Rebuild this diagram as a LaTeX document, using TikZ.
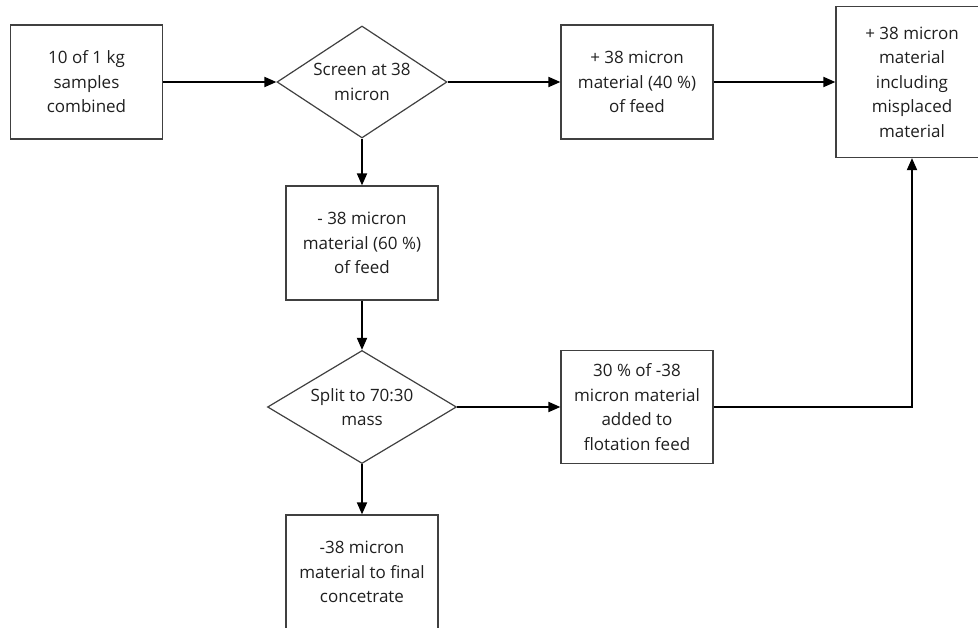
\documentclass[tikz,border=0pt]{standalone}
\usepackage{fontspec}
\setmainfont{Open Sans}
\usetikzlibrary{shapes.geometric,arrows.meta}
\begin{document}
\begin{tikzpicture}[x=1pt,y=-1pt,
  every node/.style={font=\fontsize{17}{24.5}\selectfont, text=black!88, align=center},
  boxnode/.style={draw=black!75, line width=1.2pt, rectangle, minimum width=152pt, minimum height=114pt, inner sep=0pt},
  decision/.style={draw=black!75, line width=1.2pt, diamond, inner sep=0pt, shape aspect=1.5},
  flow/.style={line width=1.8pt, -{Triangle[length=12pt,width=10pt]}}]
\useasboundingbox (0,0) rectangle (978,628);
\clip (0,0) rectangle (978,628);
\node[boxnode] (A) at (86.5,82) {10 of 1 kg\\samples\\combined};
\node[decision, minimum width=170pt, minimum height=112pt] (S) at (362,82) {Screen at 38\\micron};
\node[boxnode] (B) at (637,82) {+ 38 micron\\material (40 \%)\\of feed};
\node[boxnode, minimum height=151pt] (C) at (912,82) {+ 38 micron\\material\\including\\misplaced\\material};
\node[boxnode] (D) at (362,243) {- 38 micron\\material (60 \%)\\of feed};
\node[decision, minimum width=189pt, minimum height=113pt, shape aspect=1.67] (P) at (362,407) {Split to 70:30\\mass};
\node[boxnode, minimum height=113pt] (E) at (637,407) {30 \% of -38\\micron material\\added to\\flotation feed};
\node[boxnode] (F) at (362,572) {-38 micron\\material to final\\concetrate};
\coordinate (K) at (912,407);
\draw[flow] (A) -- (S);
\draw[flow] (S) -- (B);
\draw[flow] (B) -- (C);
\draw[flow] (S) -- (D);
\draw[flow] (D) -- (P);
\draw[flow] (P) -- (E);
\draw[flow] (P) -- (F);
\draw[flow] (E.east) -- (K) -- (C.south);
\end{tikzpicture}
\end{document}
